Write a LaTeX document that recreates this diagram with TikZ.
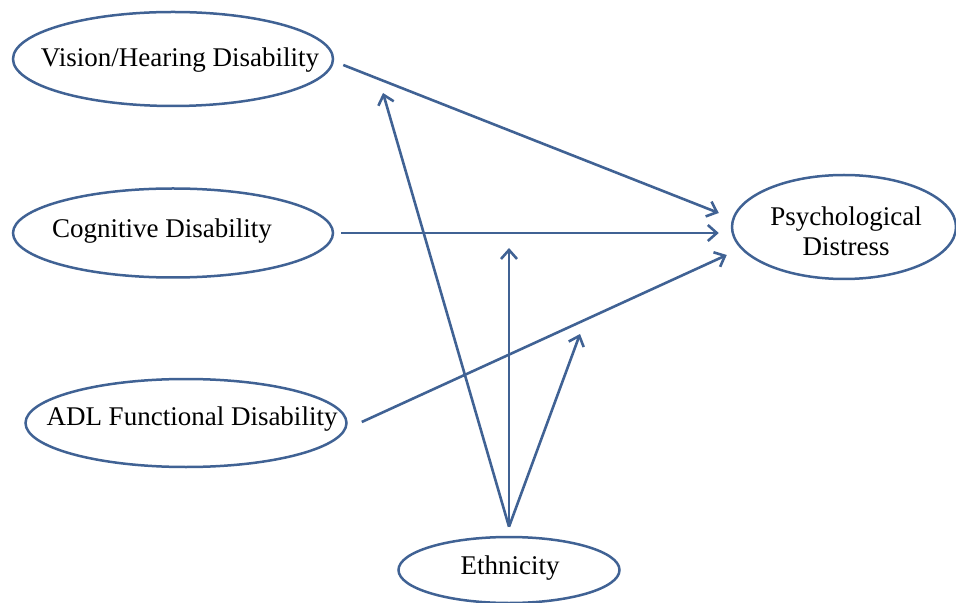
\documentclass[tikz,border=0pt]{standalone}
\usepackage{fontspec}
\setmainfont{Liberation Serif}
\usepackage{xcolor}
\usetikzlibrary{arrows.meta,shapes.geometric}
\definecolor{linkblue}{RGB}{64,98,148}

\begin{document}
\begin{tikzpicture}[x=0.5pt,y=-0.5pt,
        var/.style={ellipse,draw=linkblue,line width=1.25pt,inner sep=0pt},
        lbl/.style={font=\fontsize{13.5}{15}\selectfont,align=center,inner sep=0pt},
        link/.style={draw=linkblue,line width=1.3pt,-{Straight Barb[length=4.5pt,width=8pt]}}]
        \useasboundingbox (0,0) rectangle (956,603);

        \coordinate (visMod) at (383,93);
        \coordinate (cogMod) at (509,248);
        \coordinate (adlMod) at (580,334);

        \node[var,minimum width=160pt,minimum height=47pt]   (vis) at (173,59)  {};
        \node[var,minimum width=160pt,minimum height=44.5pt] (cog) at (173,233) {};
        \node[var,minimum width=160.5pt,minimum height=44pt] (adl) at (186,423) {};
        \node[var,minimum width=112pt,minimum height=52pt]   (psy) at (844,227) {};
        \node[var,minimum width=110.5pt,minimum height=33pt] (eth) at (509,570) {};

        \node[lbl] (visText) at (180,60)  {Vision/Hearing Disability};
        \node[lbl] (cogText) at (162,231) {Cognitive Disability};
        \node[lbl] (adlText) at (192,419) {ADL Functional Disability};
        \node[lbl] (psyText) at (846,231) {Psychological\\Distress};
        \node[lbl] (ethText) at (510,568) {Ethnicity};

        \draw[link] ([xshift=4.5pt,yshift=-3pt]vis.east) -- ([xshift=-6pt,yshift=7pt]psy.west);
        \draw[link] ([xshift=3.5pt]cog.east)             -- ([xshift=-6pt,yshift=-3pt]psy.west);
        \draw[link] ([xshift=7pt,yshift=0.5pt]adl.east)  -- ([xshift=-2pt,yshift=-14pt]psy.west);

        \draw[link] ([yshift=4.5pt]eth.north) -- (visMod);
        \draw[link] ([yshift=4.5pt]eth.north) -- (cogMod);
        \draw[link] ([yshift=4.5pt]eth.north) -- (adlMod);
    \end{tikzpicture}
\end{document}
